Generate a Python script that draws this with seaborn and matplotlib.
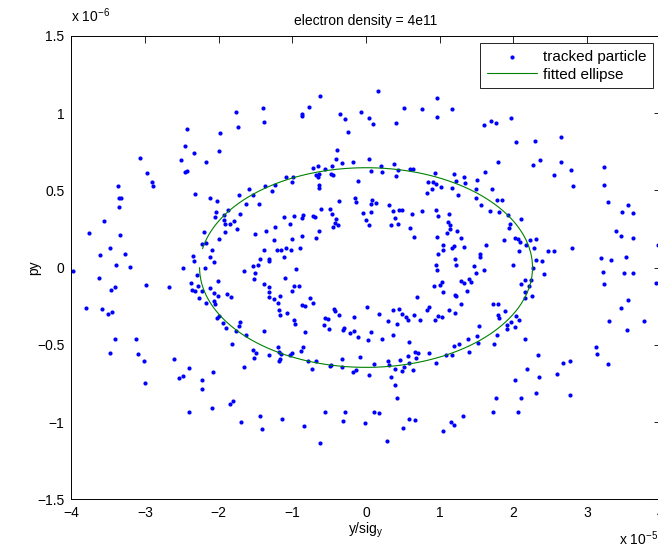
import numpy as np
import pandas as pd
import matplotlib
matplotlib.use("Agg")
import matplotlib.pyplot as plt
import seaborn as sns

# ---------------- data (x in units of 1e-5, y in units of 1e-6) ----------------
TITLE = "electron density = 4e11"
XLABEL = "y/sig$_\\mathrm{y}$"
YLABEL = "py"
X_TICKS = [-4, -3, -2, -1, 0, 1, 2, 3, 4]
Y_TICKS = [-1.5, -1.0, -0.5, 0.0, 0.5, 1.0, 1.5]
Y_TICK_LABELS = ["\u22121.5", "\u22121", "\u22120.5", "0", "0.5", "1", "1.5"]
X_TICK_LABELS = ["\u22124", "\u22123", "\u22122", "\u22121", "0", "1", "2", "3", "4"]

pts_top_left = [(-2.431, 0.894), (-1.983, 0.872), (-2.462, 0.786), (-2.335, 0.743), (-1.992, 0.752),
                (-3.073, 0.706), (-2.512, 0.696), (-2.173, 0.683), (-2.426, 0.627), (-2.458, 0.616),
                (-2.969, 0.609), (-2.901, 0.555), (-2.892, 0.529), (-3.367, 0.525)]

pts_top_mid_left = [(-0.625, 1.108), (-1.765, 1.008), (-1.399, 1.030), (-1.734, 0.909), (-1.385, 0.944),
                    (-0.774, 1.037), (-0.874, 0.991), (-0.869, 0.983), (-0.349, 0.995), (-0.290, 0.963),
                    (-0.064, 1.004), (0.045, 0.970), (0.095, 0.929), (-0.245, 0.877), (-0.394, 0.760),
                    (-0.403, 0.702), (-0.322, 0.674), (-0.182, 0.685), (0.036, 0.704), (-0.715, 0.642),
                    (-0.657, 0.659), (-0.562, 0.637), (-0.467, 0.657), (-0.675, 0.601), (-0.643, 0.605),
                    (-0.652, 0.586), (-0.471, 0.605), (-0.449, 0.601), (0.063, 0.622), (-1.082, 0.588),
                    (-0.996, 0.583), (-1.010, 0.553), (-0.109, 0.562), (-0.643, 0.536), (-0.639, 0.516),
                    (-1.589, 0.510), (-1.372, 0.525), (-1.231, 0.532)]

pts_top_mid_right = [(0.162, 1.140), (0.963, 1.095), (0.515, 1.034), (0.755, 1.026), (1.162, 1.026),
                     (0.963, 0.974), (0.411, 0.933), (1.601, 0.922), (1.692, 0.950), (1.764, 0.937),
                     (1.972, 0.970), (2.040, 0.814), (1.791, 0.685), (0.203, 0.657), (0.384, 0.670),
                     (0.221, 0.618), (0.434, 0.631), (0.597, 0.635), (0.642, 0.635), (0.407, 0.592),
                     (0.936, 0.611), (1.194, 0.603), (1.330, 0.583), (1.221, 0.562), (0.841, 0.555),
                     (0.905, 0.551), (0.950, 0.538), (1.022, 0.521), (0.891, 0.508), (1.162, 0.512),
                     (1.339, 0.545), (1.506, 0.566), (1.610, 0.616), (1.488, 0.506), (1.710, 0.510)]

pts_top_right = [(2.294, 0.821), (2.642, 0.844), (2.271, 0.665), (2.357, 0.693), (2.642, 0.683),
                 (2.547, 0.598), (2.778, 0.631), (3.230, 0.652), (2.814, 0.525), (3.226, 0.532)]

pts_mid_left = [(-2.322, 0.478), (-2.114, 0.450), (-2.028, 0.429), (-3.358, 0.450), (-3.322, 0.450),
                (-3.354, 0.390), (-3.557, 0.299), (-2.037, 0.360), (-2.046, 0.327), (-1.928, 0.342),
                (-1.924, 0.308), (-1.910, 0.282), (-3.761, 0.222), (-3.345, 0.211), (-2.204, 0.228),
                (-1.919, 0.228), (-1.996, 0.187), (-2.231, 0.150), (-2.173, 0.157), (-3.476, 0.127),
                (-2.087, 0.116), (-3.612, 0.079), (-3.277, 0.086), (-2.354, 0.075), (-2.123, 0.071),
                (-2.340, 0.043), (-2.064, 0.036), (-3.390, 0.017), (-3.209, 0.006), (-2.480, 0.000),
                (-2.182, -0.005), (-2.299, -0.050), (-3.625, -0.070), (-2.010, -0.087), (-2.987, -0.111),
                (-2.679, -0.124), (-3.412, -0.128), (-3.467, -0.145), (-2.381, -0.100), (-2.281, -0.121),
                (-2.363, -0.143), (-2.317, -0.154), (-2.227, -0.150), (-2.118, -0.132), (-2.059, -0.162),
                (-2.010, -0.186), (-2.263, -0.195), (-2.177, -0.229), (-2.064, -0.219), (-2.055, -0.234),
                (-3.806, -0.262), (-3.589, -0.268), (-3.444, -0.285), (-3.503, -0.298), (-2.001, -0.316),
                (-2.028, -0.329), (-1.937, -0.359), (-1.906, -0.393), (-3.403, -0.462), (-3.123, -0.464),
                (-3.980, -0.020)]

pts_center_left = [(-1.729, 0.472), (-1.530, 0.472), (-1.272, 0.493), (-1.869, 0.373), (-1.634, 0.414),
                   (-1.449, 0.409), (-1.711, 0.345), (-1.792, 0.304), (-1.842, 0.282), (-1.747, 0.252),
                   (-1.512, 0.215), (-1.358, 0.235), (-1.240, 0.260), (-1.254, 0.178), (-1.114, 0.327),
                   (-1.037, 0.282), (-0.978, 0.336), (-0.874, 0.323), (-0.851, 0.340), (-0.720, 0.336),
                   (-0.697, 0.329), (-0.616, 0.379), (-0.489, 0.379), (-0.458, 0.345), (-0.412, 0.317),
                   (-0.426, 0.291), (-0.385, 0.273), (-0.449, 0.260), (-0.639, 0.239), (-0.675, 0.191),
                   (-0.363, 0.429), (-0.154, 0.452), (-0.141, 0.422), (0.081, 0.439), (0.067, 0.414),
                   (-0.046, 0.355), (0.063, 0.360), (-0.005, 0.308), (0.036, 0.273), (-1.001, 0.187),
                   (-0.874, 0.206), (-1.381, 0.112), (-1.209, 0.114), (-1.154, 0.114), (-1.091, 0.127),
                   (-1.019, 0.112), (-0.896, 0.129), (-1.118, 0.066), (-1.444, 0.053), (-1.322, 0.055),
                   (-1.313, 0.040), (-1.471, 0.017), (-1.534, 0.010), (-1.652, -0.022), (-0.946, -0.009),
                   (-1.503, -0.035), (-1.525, -0.076), (-1.100, -0.068), (-1.381, -0.109), (-1.313, -0.124),
                   (-0.982, -0.117), (-0.915, -0.117), (-1.010, -0.152), (-1.313, -0.160), (-1.317, -0.193),
                   (-1.245, -0.201), (-1.163, -0.186), (-1.200, -0.231), (-0.761, -0.195), (-0.720, -0.227),
                   (-0.869, -0.240), (-0.833, -0.251), (-1.182, -0.275), (-1.073, -0.292), (-1.168, -0.307),
                   (-0.973, -0.342), (-0.969, -0.367), (-1.385, -0.411), (-0.833, -0.415), (-1.883, -0.171),
                   (-1.838, -0.193), (-1.706, -0.352), (-1.725, -0.380), (-1.765, -0.408), (-1.634, -0.439),
                   (-1.824, -0.493), (-1.195, -0.516), (-0.860, -0.512), (-0.435, -0.266), (-0.417, -0.283),
                   (-0.372, -0.305), (-0.557, -0.326), (-0.516, -0.333), (-0.571, -0.372), (-0.498, -0.398),
                   (-0.295, -0.389), (-0.313, -0.406), (-0.213, -0.424), (-0.163, -0.413), (-0.109, -0.449),
                   (-0.159, -0.320), (0.018, -0.253), (0.031, -0.469), (0.067, -0.417)]

pts_center_right = [(0.828, 0.485), (1.253, 0.472), (0.135, 0.420), (0.307, 0.407), (0.366, 0.364),
                    (0.443, 0.375), (0.488, 0.373), (0.398, 0.323), (0.339, 0.278), (0.434, 0.284),
                    (0.624, 0.349), (0.760, 0.364), (0.950, 0.373), (0.981, 0.334), (1.131, 0.349),
                    (1.113, 0.295), (1.144, 0.278), (1.140, 0.247), (1.095, 0.222), (1.239, 0.239),
                    (0.601, 0.254), (0.656, 0.196), (0.959, 0.196), (1.285, 0.191), (1.049, 0.146),
                    (1.040, 0.114), (1.171, 0.127), (1.199, 0.140), (1.325, 0.131), (0.977, 0.090),
                    (1.624, 0.146), (1.547, 0.090), (1.543, 0.071), (1.212, 0.055), (0.954, 0.019),
                    (1.221, 0.014), (0.963, -0.016), (1.461, 0.008), (1.601, -0.016), (1.488, -0.037),
                    (1.289, -0.089), (1.325, -0.102), (1.393, -0.076), (1.429, -0.091), (1.031, -0.093),
                    (1.000, -0.115), (0.923, -0.121), (1.040, -0.158), (1.366, -0.152), (1.208, -0.175),
                    (1.217, -0.182), (0.687, -0.193), (0.859, -0.253), (0.823, -0.275), (1.285, -0.238),
                    (1.131, -0.275), (1.212, -0.294), (0.181, -0.303), (0.362, -0.275), (0.443, -0.268),
                    (0.484, -0.303), (0.538, -0.320), (0.570, -0.342), (0.647, -0.305), (0.737, -0.339),
                    (0.303, -0.348), (0.425, -0.365), (0.941, -0.339), (0.972, -0.311), (1.027, -0.322),
                    (0.371, -0.436), (0.217, -0.460), (0.583, -0.484), (1.190, -0.510), (1.258, -0.497),
                    (1.380, -0.460), (1.511, -0.443), (1.538, -0.376), (1.515, -0.488), (1.742, -0.495),
                    (1.773, -0.436), (1.719, -0.236), (1.791, -0.234), (1.787, -0.305), (1.801, -0.329),
                    (1.882, -0.283), (1.918, -0.372), (1.909, -0.400), (1.963, -0.352), (2.027, -0.385),
                    (2.036, -0.311), (1.995, 0.017), (1.873, 0.178), (2.027, 0.191), (1.950, 0.282),
                    (1.945, 0.254), (1.923, 0.340), (1.805, 0.360), (1.678, 0.364), (1.556, 0.407),
                    (1.497, 0.450), (1.773, 0.437), (1.841, 0.435)]

pts_mid_right = [(3.285, 0.424), (3.556, 0.407), (3.475, 0.362), (3.624, 0.351), (2.108, 0.314),
                 (3.398, 0.235), (3.466, 0.206), (3.629, 0.191), (2.063, 0.185), (2.086, 0.168),
                 (2.230, 0.176), (2.303, 0.185), (2.176, 0.148), (2.285, 0.127), (2.081, 0.107),
                 (2.470, 0.109), (2.547, 0.109), (2.792, 0.124), (3.194, 0.062), (3.321, 0.049),
                 (3.529, 0.068), (2.303, 0.047), (2.393, 0.040), (2.271, -0.003), (2.420, -0.040),
                 (2.153, -0.078), (2.239, -0.080), (2.104, -0.106), (2.217, -0.117), (2.163, -0.158),
                 (2.158, -0.197), (2.258, -0.184), (3.217, -0.027), (3.506, -0.037), (3.629, -0.035),
                 (3.226, -0.106), (3.936, -0.100), (3.552, -0.210), (3.461, -0.260), (3.294, -0.348),
                 (3.769, -0.344), (3.543, -0.406), (2.072, -0.342), (2.158, -0.465), (3.122, -0.512),
                 (3.970, 0.148)]

pts_bottom_left = [(-3.476, -0.553), (-3.096, -0.562), (-3.019, -0.603), (-2.607, -0.592), (-2.399, -0.650),
                   (-2.535, -0.717), (-2.485, -0.704), (-3.006, -0.750), (-2.227, -0.730), (-2.083, -0.678),
                   (-2.227, -0.788), (-2.408, -0.937), (-2.096, -0.907)]

pts_bottom_mid_left = [(-1.530, -0.534), (-1.489, -0.555), (-1.521, -0.584), (-1.313, -0.568), (-1.177, -0.547),
                       (-1.150, -0.562), (-1.168, -0.594), (-1.186, -0.607), (-1.032, -0.564), (-1.010, -0.551),
                       (-0.887, -0.540), (-0.783, -0.605), (-0.679, -0.603), (-0.729, -0.659), (-0.494, -0.637),
                       (-0.471, -0.633), (-0.322, -0.594), (-0.322, -0.642), (-0.177, -0.676), (-0.141, -0.665),
                       (-0.082, -0.579), (0.036, -0.696), (-1.661, -0.644), (-1.847, -0.886), (-1.801, -0.866),
                       (-1.697, -1.002), (-1.444, -0.961), (-1.412, -1.045), (-1.145, -0.983), (-0.838, -1.024),
                       (-0.620, -1.134), (-0.557, -0.937), (-0.290, -0.935), (-0.308, -0.993), (-0.014, -1.006)]

pts_bottom_mid_right = [(0.108, -0.622), (0.298, -0.605), (0.307, -0.631), (0.398, -0.657), (0.457, -0.599),
                        (0.484, -0.672), (0.520, -0.642), (0.570, -0.573), (0.588, -0.616), (0.633, -0.665),
                        (0.669, -0.547), (0.705, -0.551), (0.683, -0.588), (0.850, -0.555), (0.950, -0.618),
                        (1.090, -0.566), (1.167, -0.568), (1.393, -0.545), (0.343, -0.706), (0.389, -0.760),
                        (0.416, -0.842), (0.108, -0.937), (0.181, -0.939), (0.502, -1.039), (0.588, -0.983),
                        (0.669, -0.985), (0.289, -1.123), (1.040, -1.060), (1.158, -0.998), (1.194, -1.017),
                        (1.312, -0.959), (1.728, -0.937), (1.764, -0.847), (2.027, -0.728), (2.068, -0.933)]

pts_bottom_right = [(2.099, -0.847), (2.335, -0.566), (2.185, -0.659), (2.348, -0.709), (2.303, -0.814),
                    (2.592, -0.689), (2.678, -0.616), (2.764, -0.607), (2.764, -0.825), (3.131, -0.562),
                    (3.285, -0.627)]

# fitted ellipse parameters (same units)
ELLIPSE_CENTER = (0.0, 0.0)
ELLIPSE_SEMI_AXES = (2.26, 0.646)
ELLIPSE_ANGLE_START = np.pi
ELLIPSE_ANGLE_END = 3 * np.pi - 0.19

# ---------------- build frames ----------------
groups = [pts_top_left, pts_top_mid_left, pts_top_mid_right, pts_top_right,
          pts_mid_left, pts_center_left, pts_center_right, pts_mid_right,
          pts_bottom_left, pts_bottom_mid_left, pts_bottom_mid_right, pts_bottom_right]
all_pts = [p for g in groups for p in g]
df = pd.DataFrame(all_pts, columns=["x", "y"])

theta = np.linspace(ELLIPSE_ANGLE_START, ELLIPSE_ANGLE_END, 300)
ell = pd.DataFrame({
    "x": ELLIPSE_CENTER[0] + ELLIPSE_SEMI_AXES[0] * np.cos(theta),
    "y": ELLIPSE_CENTER[1] + ELLIPSE_SEMI_AXES[1] * np.sin(theta),
})

# ---------------- style ----------------
sns.set_theme(style="white")
plt.rcParams["font.family"] = ["Liberation Sans", "DejaVu Sans"]
plt.rcParams["mathtext.fontset"] = "custom"
plt.rcParams["mathtext.rm"] = "Liberation Sans"
plt.rcParams["mathtext.it"] = "Liberation Sans:italic"
plt.rcParams["mathtext.default"] = "regular"
plt.rcParams["axes.unicode_minus"] = True

fig = plt.figure(figsize=(6.58, 5.46), dpi=100)
fig.patch.set_facecolor("white")
ax = fig.add_axes([0.1085, 0.0855, 0.8956, 0.849])
ax.set_facecolor("white")

sns.scatterplot(data=df, x="x", y="y", ax=ax, color="#0000ff", s=9, linewidth=0,
                marker="o", label="tracked particle", zorder=2)
sns.lineplot(data=ell, x="x", y="y", ax=ax, sort=False, estimator=None,
             color="#008000", linewidth=0.8, label="fitted ellipse", zorder=3)

ax.set_xlim(-4, 4)
ax.set_ylim(-1.5, 1.5)
ax.set_xticks(X_TICKS)
ax.set_xticklabels(X_TICK_LABELS)
ax.set_yticks(Y_TICKS)
ax.set_yticklabels(Y_TICK_LABELS)
ax.tick_params(direction="in", length=5, width=0.6, top=True, right=True,
               labelsize=10, colors="black", pad=5)
for sp in ax.spines.values():
    sp.set_visible(True)
    sp.set_color("black")
    sp.set_linewidth(0.7)

ax.set_title(TITLE, fontsize=10, pad=8, color="black")
ax.set_xlabel(XLABEL, fontsize=10, color="black")
ax.set_ylabel(YLABEL, fontsize=10, color="black")
ax.xaxis.set_label_coords(0.5, -0.046)
ax.yaxis.set_label_coords(-0.052, 0.5)

ax.text(0.0, 1.0 + 13.7 / 463.6, "x 10$^{-6}$", transform=ax.transAxes,
        ha="left", va="baseline", fontsize=10, color="black")
ax.text(0.929, -45.7 / 463.6, "x 10$^{-5}$", transform=ax.transAxes,
        ha="left", va="baseline", fontsize=10, color="black")

leg = ax.legend(loc="upper right", frameon=True, fancybox=False, framealpha=1,
                edgecolor="black", fontsize=11, borderaxespad=0.5, handlelength=3.3,
                handletextpad=0.4, borderpad=0.42, labelspacing=0.25)
leg.get_frame().set_linewidth(0.6)
for t in leg.get_texts():
    t.set_color("black")

fig.savefig("out.png", dpi=100)
